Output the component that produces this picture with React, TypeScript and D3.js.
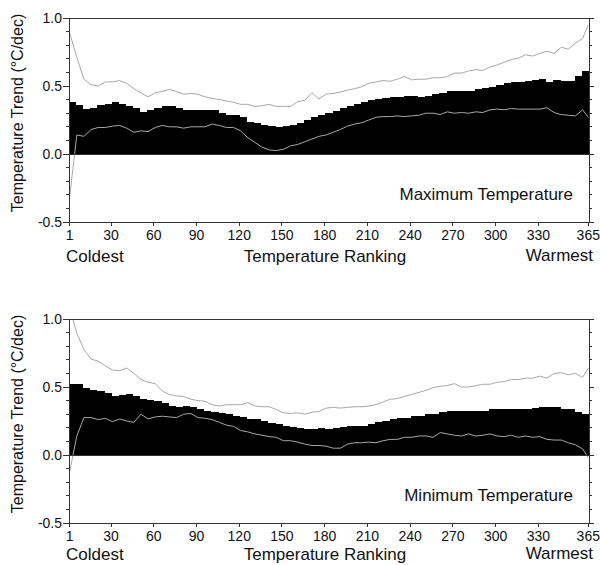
import React from 'react';
import * as d3 from 'd3';

// x axis: temperature ranking of the day (1 = coldest, 365 = warmest)
const rankTicks = [1, 30, 60, 90, 120, 150, 180, 210, 240, 270, 300, 330, 365];
const trendTicks = [-0.5, 0.0, 0.5, 1.0];
const BIN = 5;
const lineRanks = d3.range(1, 362, BIN).concat([365]);

// Maximum temperature: trend per 5-rank bin (73 bins)
const maxTrend = [
  0.38, 0.36, 0.33, 0.34, 0.36, 0.37, 0.38, 0.365, 0.35, 0.335,
  0.31, 0.32, 0.34, 0.35, 0.35, 0.335, 0.325, 0.325, 0.325, 0.325,
  0.32, 0.305, 0.29, 0.285, 0.27, 0.235, 0.225, 0.215, 0.205, 0.2,
  0.205, 0.215, 0.23, 0.25, 0.27, 0.29, 0.305, 0.315, 0.34, 0.355,
  0.37, 0.385, 0.4, 0.405, 0.415, 0.42, 0.42, 0.425, 0.425, 0.42,
  0.43, 0.44, 0.445, 0.46, 0.46, 0.46, 0.46, 0.475, 0.485, 0.495,
  0.51, 0.52, 0.53, 0.53, 0.54, 0.545, 0.55, 0.53, 0.545, 0.535,
  0.54, 0.57, 0.61,
];
// upper / lower bounds at lineRanks
const maxUpper = [
  0.89, 0.71, 0.55, 0.51, 0.5, 0.53, 0.53, 0.54, 0.52, 0.48,
  0.45, 0.42, 0.45, 0.46, 0.475, 0.46, 0.44, 0.445, 0.44, 0.42,
  0.41, 0.4, 0.39, 0.38, 0.365, 0.365, 0.35, 0.355, 0.365, 0.35,
  0.35, 0.35, 0.385, 0.395, 0.45, 0.405, 0.44, 0.445, 0.455, 0.47,
  0.48, 0.495, 0.52, 0.53, 0.54, 0.535, 0.55, 0.57, 0.545, 0.55,
  0.55, 0.56, 0.56, 0.57, 0.595, 0.595, 0.61, 0.62, 0.615, 0.64,
  0.655, 0.675, 0.695, 0.705, 0.73, 0.72, 0.74, 0.755, 0.74, 0.785,
  0.77, 0.815, 0.85, 0.95,
];
const maxLower = [
  -0.31, 0.14, 0.13, 0.18, 0.195, 0.195, 0.205, 0.21, 0.19, 0.16,
  0.17, 0.165, 0.195, 0.21, 0.2, 0.2, 0.19, 0.2, 0.2, 0.2,
  0.22, 0.21, 0.195, 0.195, 0.17, 0.12, 0.085, 0.05, 0.03, 0.025,
  0.035, 0.06, 0.07, 0.09, 0.11, 0.13, 0.14, 0.16, 0.18, 0.205,
  0.22, 0.23, 0.25, 0.27, 0.275, 0.275, 0.28, 0.275, 0.28, 0.285,
  0.3, 0.3, 0.29, 0.31, 0.3, 0.305, 0.3, 0.31, 0.305, 0.325,
  0.33, 0.325, 0.335, 0.33, 0.33, 0.33, 0.33, 0.34, 0.305, 0.29,
  0.285, 0.28, 0.325, 0.27,
];

// Minimum temperature
const minTrend = [
  0.525, 0.52, 0.495, 0.475, 0.47, 0.455, 0.435, 0.44, 0.45, 0.435,
  0.415, 0.405, 0.395, 0.38, 0.36, 0.355, 0.36, 0.35, 0.335, 0.325,
  0.315, 0.31, 0.3, 0.29, 0.28, 0.265, 0.265, 0.25, 0.235, 0.225,
  0.215, 0.205, 0.195, 0.19, 0.19, 0.195, 0.19, 0.2, 0.205, 0.21,
  0.215, 0.215, 0.225, 0.24, 0.25, 0.265, 0.27, 0.275, 0.285, 0.29,
  0.3, 0.305, 0.315, 0.325, 0.325, 0.325, 0.325, 0.325, 0.325, 0.335,
  0.335, 0.335, 0.34, 0.34, 0.34, 0.345, 0.35, 0.35, 0.35, 0.34,
  0.335, 0.315, 0.3,
];
const minUpper = [
  1.08, 0.895, 0.775, 0.705, 0.69, 0.655, 0.625, 0.62, 0.64, 0.6,
  0.555, 0.535, 0.525, 0.47, 0.445, 0.435, 0.43, 0.41, 0.4, 0.395,
  0.37, 0.36, 0.37, 0.37, 0.37, 0.385, 0.36, 0.355, 0.355, 0.335,
  0.31, 0.305, 0.31, 0.3, 0.315, 0.32, 0.345, 0.35, 0.345, 0.35,
  0.355, 0.355, 0.36, 0.37, 0.39, 0.41, 0.415, 0.43, 0.445, 0.46,
  0.475, 0.495, 0.505, 0.51, 0.525, 0.5, 0.5, 0.51, 0.52, 0.52,
  0.535, 0.54, 0.555, 0.555, 0.565, 0.565, 0.58, 0.565, 0.6, 0.605,
  0.59, 0.6, 0.57, 0.64,
];
const minLower = [
  -0.12, 0.14, 0.275, 0.275, 0.26, 0.27, 0.245, 0.265, 0.25, 0.24,
  0.3, 0.265, 0.28, 0.285, 0.28, 0.275, 0.3, 0.305, 0.275, 0.27,
  0.26, 0.24, 0.22, 0.21, 0.18, 0.17, 0.155, 0.145, 0.135, 0.13,
  0.105, 0.105, 0.095, 0.08, 0.07, 0.07, 0.065, 0.05, 0.05, 0.08,
  0.09, 0.09, 0.095, 0.09, 0.105, 0.115, 0.115, 0.13, 0.13, 0.14,
  0.14, 0.13, 0.165, 0.155, 0.145, 0.14, 0.155, 0.14, 0.145, 0.155,
  0.14, 0.135, 0.145, 0.13, 0.14, 0.13, 0.135, 0.115, 0.11, 0.11,
  0.09, 0.075, 0.045, -0.02,
];

const panels = [
  { label: 'Maximum Temperature', bars: maxTrend, upper: maxUpper, lower: maxLower },
  { label: 'Minimum Temperature', bars: minTrend, upper: minUpper, lower: minLower },
];

const WIDTH = 600;
const HEIGHT = 565;
const LEFT = 69;
const RIGHT = 589;
const PANEL_TOPS = [18, 319];
const PANEL_H = 204;
const FONT = '"Liberation Sans", Arial, Helvetica, sans-serif';
const AXIS = '#333';
const BOUND = '#a8a8a8';

function Panel({ top, idx, label, bars, upper, lower }) {
  const x = d3.scaleLinear().domain([0.5, 365.5]).range([LEFT, RIGHT]);
  const y = d3.scaleLinear().domain([-0.5, 1.0]).range([top + PANEL_H, top]);
  const bottom = top + PANEL_H;
  const line = d3.line().x(d => x(d[0])).y(d => y(d[1]));
  const minor = d3.range(-5, 11).map(i => i / 10);
  const clipId = `clip-${idx}`;
  // the lower panel sits against the page edge, keep its captions inside
  const captionY = idx === 0 ? bottom + 40 : bottom + 37;

  return (
    <g>
      <defs>
        <clipPath id={clipId}>
          <rect x={LEFT} y={top} width={RIGHT - LEFT} height={PANEL_H} />
        </clipPath>
      </defs>

      {/* bars */}
      <g shapeRendering="crispEdges">
        {bars.map((v, i) => {
          const r0 = i * BIN + 1;
          const r1 = Math.min(r0 + BIN - 1, 365);
          return (
            <rect key={`b-${i}`} x={x(r0 - 0.5)} width={x(r1 + 0.5) - x(r0 - 0.5)}
              y={y(v)} height={y(0) - y(v)} fill="#000" />
          );
        })}
      </g>

      {/* bounds */}
      <g clipPath={`url(#${clipId})`} fill="none" stroke={BOUND} strokeWidth={1}>
        <path d={line(lineRanks.map((r, i) => [r, upper[i]]))} />
        <path d={line(lineRanks.map((r, i) => [r, lower[i]]))} />
      </g>

      {/* frame */}
      <g stroke={AXIS} strokeWidth={1} shapeRendering="crispEdges">
        <rect x={LEFT} y={top} width={RIGHT - LEFT} height={PANEL_H} fill="none" />
        <line x1={LEFT} x2={RIGHT} y1={y(0)} y2={y(0)} />
        {minor.map(v => {
          const major = trendTicks.some(t => Math.abs(t - v) < 1e-9);
          return (
            <g key={`t-${v}`}>
              <line x1={LEFT - (major ? 6 : 3)} x2={LEFT} y1={y(v)} y2={y(v)} />
              <line x1={RIGHT} x2={RIGHT + (major ? 5 : 3)} y1={y(v)} y2={y(v)} />
            </g>
          );
        })}
        {rankTicks.map(r => (
          <line key={`xt-${r}`} x1={x(r)} x2={x(r)} y1={bottom} y2={bottom + 4} />
        ))}
      </g>

      {/* tick labels */}
      <g fontFamily={FONT} fontSize={14} fill="#111">
        {trendTicks.map(t => (
          <text key={`yl-${t}`} x={LEFT - 7} y={y(t)} dy="0.35em" textAnchor="end">
            {t.toFixed(1)}
          </text>
        ))}
        {rankTicks.map(r => (
          <text key={`xl-${r}`} x={x(r)} y={bottom + 18} textAnchor="middle">{r}</text>
        ))}
      </g>

      <g fontFamily={FONT} fontSize={17} fill="#111">
        <text x={66} y={captionY}>Coldest</text>
        <text x={325} y={captionY} textAnchor="middle">Temperature Ranking</text>
        <text x={593} y={captionY - 1} textAnchor="end">Warmest</text>
        <text x={573} y={top + 182} textAnchor="end">{label}</text>
      </g>

      <text transform={`translate(23,${top + 95}) rotate(-90)`} textAnchor="middle"
        fontFamily={FONT} fontSize={16} fill="#111">
        Temperature Trend (°C/dec)
      </text>
    </g>
  );
}

export default function App() {
  return (
    <svg width={WIDTH} height={HEIGHT} viewBox={`0 0 ${WIDTH} ${HEIGHT}`}
      style={{ position: 'absolute', left: 0, top: 0, background: '#fff' }}
      xmlns="http://www.w3.org/2000/svg">
      {panels.map((p, i) => (
        <Panel key={p.label} idx={i} top={PANEL_TOPS[i]} {...p} />
      ))}
    </svg>
  );
}
